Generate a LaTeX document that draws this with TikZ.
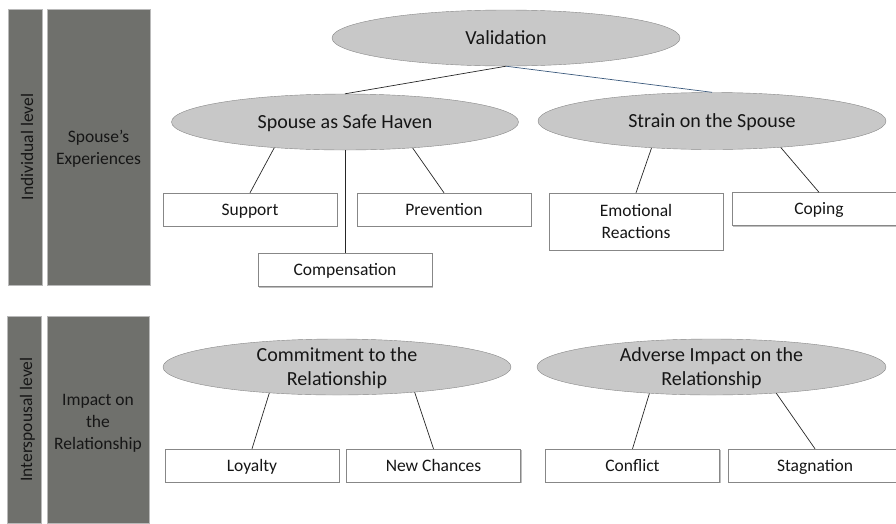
\documentclass[tikz,border=0pt]{standalone}
\usepackage{fontspec}
\setmainfont{Carlito}
\usepackage{xcolor}
\usepackage{tikz}
\usetikzlibrary{shapes.geometric,positioning,shadows}

\definecolor{bargray}{RGB}{111,112,108}
\definecolor{ovalgray}{RGB}{200,200,200}
\definecolor{edgegray}{RGB}{135,135,135}
\definecolor{txtdark}{RGB}{22,22,22}
\definecolor{linkblue}{RGB}{60,90,125}

\begin{document}
\begin{tikzpicture}[x=1pt, y=-1pt,
    barbase/.style={rectangle, draw=gray!55, fill=bargray, inner sep=0pt, align=center, text=txtdark, font=\fontsize{17.5}{21.6}\selectfont},
    levelbar/.style={barbase, execute at begin node=\rule[-5pt]{0pt}{26pt}},
    domainbar/.style={barbase, execute at begin node=\rule{0pt}{#1}},
    oval/.style={ellipse, draw=edgegray, fill=ovalgray, minimum width=348pt, minimum height=56pt, inner sep=0pt, align=center, text=txtdark, font=\fontsize{20}{24.6}\selectfont},
    theme/.style={oval, execute at begin node=\rule[-5pt]{0pt}{23pt}},
    themetwo/.style={oval, inner sep=-5pt, execute at begin node=\rule{0pt}{41pt}},
    boxbase/.style={rectangle, draw=edgegray, fill=white, minimum width=174pt, minimum height=33pt, inner sep=0pt, align=center, text=txtdark, font=\fontsize{17.5}{21.6}\selectfont,
        drop shadow={shadow xshift=1.2pt, shadow yshift=-1.2pt, opacity=1, fill=black!25}},
    subtheme/.style={boxbase, execute at begin node=\rule[-5pt]{0pt}{21pt}},
    link/.style={draw=black!85, line width=0.7pt}]

    \useasboundingbox (0,0) rectangle (896,523);
    \clip (0,0) rectangle (896,523);

    % Individual level
    \node[levelbar, rotate=90, minimum width=276pt, minimum height=34pt] (lvlind) at (25,147) {Individual level};
    \node[domainbar=38pt, minimum width=103pt, minimum height=276pt] (domspouse) at (98.5,147) {Spouse’s\\Experiences};

    \node[theme] (valid) at (506,38) {Validation};
    \node[theme, minimum width=347pt] (haven) at (345,122) {Spouse as Safe Haven};
    \node[theme, minimum height=57pt] (strain) at (712,121) {Strain on the Spouse};

    \node[subtheme] (support) at (250,209.5) {Support};
    \node[subtheme] (prevent) at (444,209.5) {Prevention};
    \node[subtheme, below=103pt of haven] (compens) {Compensation};
    \node[boxbase, minimum height=57pt] (emotion) at (636,221.5) {Emotional\\Reactions};
    \node[subtheme] (coping) at (819,209) {Coping};

    \draw[link] (valid.south) -- (haven.north);
    \draw[draw=linkblue, line width=0.7pt] (valid.south) -- (strain.north);
    \draw[link] (haven.200) -- (support.north);
    \draw[link] (haven.south) -- (compens.north);
    \draw[link] (haven.339) -- (prevent.north);
    \draw[link] (strain.204) -- (emotion.north);
    \draw[link] (strain.339) -- (coping.north);

    % Interspousal level
    \node[levelbar, rotate=90, minimum width=207pt, minimum height=34pt] (lvlinter) at (24,419.5) {Interspousal level};
    \node[domainbar=62pt, minimum width=102pt, minimum height=207pt] (domimpact) at (98,419.5) {Impact on\\the\\Relationship};

    \node[themetwo] (commit) at (337,367) {Commitment to the\\Relationship};
    \node[themetwo, minimum width=349pt] (adverse) at (711.5,367) {Adverse Impact on the\\Relationship};

    \node[subtheme] (loyal) at (252,465.5) {Loyalty};
    \node[subtheme] (chances) at (433.5,465.5) {New Chances};
    \node[subtheme] (conflict) at (632.5,465.5) {Conflict};
    \node[subtheme] (stagnat) at (815,465.5) {Stagnation};

    \draw[link] (commit.201) -- (loyal.north);
    \draw[link] (commit.342) -- (chances.north);
    \draw[link] (adverse.203) -- (conflict.north);
    \draw[link] (adverse.338) -- (stagnat.north);

\end{tikzpicture}
\end{document}
